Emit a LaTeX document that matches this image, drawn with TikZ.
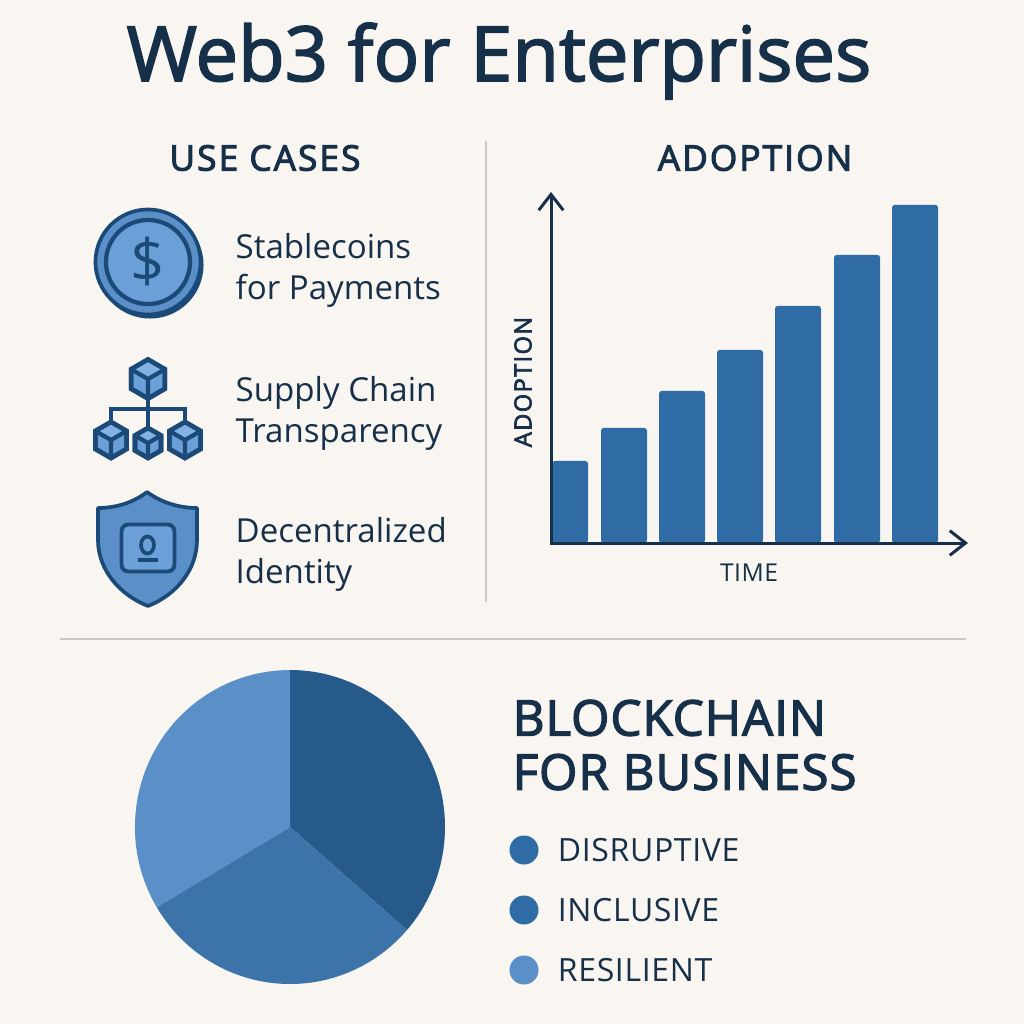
\documentclass[tikz,border=0pt]{standalone}
\usepackage{fontspec}
\usepackage{tikz}
\usetikzlibrary{positioning,shapes.geometric,arrows.meta}
\setmainfont{Open Sans}
\newfontfamily\titlefont{Open Sans}[RawFeature={embolden=2.2}]
\newfontfamily\headfont{Open Sans}[RawFeature={embolden=3},LetterSpace=6]
\newfontfamily\bigfont{Open Sans}[RawFeature={embolden=2.6},LetterSpace=2]
\newfontfamily\labelfont{Open Sans}[LetterSpace=2]
\definecolor{paper}{HTML}{F9F6F1}
\definecolor{ink}{HTML}{17304A}
\definecolor{stroke}{HTML}{1B4A78}
\definecolor{barblue}{HTML}{2F6BA5}
\definecolor{pieDark}{HTML}{265A8A}
\definecolor{pieMid}{HTML}{3C74AA}
\definecolor{pieLight}{HTML}{5B8FC7}
\definecolor{faceLight}{HTML}{6A9FD8}
\definecolor{faceTop}{HTML}{82B2E4}
\definecolor{rule}{HTML}{C9C9C5}
\newcommand{\cubeicon}[4]{%
  \node[cube node,minimum size=#4cm] (#1) at (#2,#3) {};
  \fill[faceTop] (#1.center) -- (#1.30) -- (#1.90) -- (#1.150) -- cycle;
  \draw[cube line] (#1.150) -- (#1.center) -- (#1.30) (#1.center) -- (#1.270);
  \node[cube node,minimum size=#4cm,fill=none] at (#2,#3) {};
}

\begin{document}
\begin{tikzpicture}[x=0.01cm,y=-0.01cm,
    main node/.style={inner sep=0pt,text=ink},
    body text/.style={main node,anchor=west,align=left,font=\fontsize{9.4}{11.7}\selectfont},
    head text/.style={main node,font=\headfont\fontsize{10}{12}\selectfont},
    cube node/.style={regular polygon,regular polygon sides=6,shape border rotate=30,draw=stroke,line width=1.3pt,fill=faceLight,inner sep=0pt,outer sep=0pt},
    cube line/.style={draw=stroke,line width=1.2pt},
    bar node/.style={anchor=south west,fill=barblue,inner sep=0pt,outer sep=0pt,rounded corners=0.8pt},
    dot node/.style={circle,minimum size=0.29cm,inner sep=0pt},
    icon line/.style={draw=stroke,line width=1.05pt},
    rule line/.style={draw=rule,line width=0.5pt},
    axis line/.style={draw=ink,line width=0.85pt},
    legend text/.style={main node,font=\labelfont\fontsize{9.1}{10}\selectfont}]
  \fill[paper] (0,0) rectangle (1024,1024);
  \useasboundingbox (0,0) rectangle (1024,1024);

  \node[main node,font=\titlefont\fontsize{21.6}{26}\selectfont] (title) at (499,61) {Web3 for Enterprises};
  \node[head text] (usecases) at (265,158) {USE CASES};
  \node[head text] (adoption) at (755,158) {ADOPTION};

  % dividers
  \coordinate (vtop) at (486,141);
  \coordinate (vbot) at (486,602);
  \coordinate (hleft) at (60,639);
  \coordinate (hright) at (966,639);
  \draw[rule line] (vtop) -- (vbot);
  \draw[rule line] (hleft) -- (hright);

  % coin
  \node[circle,fill=stroke,minimum size=1.07cm,inner sep=0pt] (coinback) at (150,265) {};
  \node[circle,icon line,fill=pieLight,minimum size=1.05cm,inner sep=0pt] (coin) at (148,262) {};
  \node[circle,draw=stroke,line width=1.2pt,fill=faceLight,minimum size=0.84cm,inner sep=0pt,text=stroke,font=\fontsize{17}{18}\selectfont] (coinface) at (148,262) {\$};
  \node[body text] (stable) at (235,270) {Stablecoins\\for Payments};

  % cubes
  \cubeicon{cubetop}{148}{379}{0.39}
  \cubeicon{cubeleft}{111}{440}{0.36}
  \cubeicon{cubemid}{148}{443}{0.30}
  \cubeicon{cuberight}{185}{440}{0.36}
  \coordinate (hub) at (148,409);
  \draw[cube line] (cubetop.south) -- (cubemid.north);
  \draw[cube line] (cubeleft.north) |- (hub) -| (cuberight.north);
  \node[body text] (supply) at (235,413) {Supply Chain\\Transparency};

  % shield
  \draw[icon line,fill=pieLight,line join=round] (147,492) .. controls (133,503) and (115,508) .. (98,508) -- (98,540)
    .. controls (98,570) and (120,595) .. (148,606) .. controls (176,595) and (197,570) .. (197,540) -- (197,508)
    .. controls (180,508) and (162,503) .. (147,492) -- cycle;
  \node[draw=stroke,line width=1.1pt,fill=faceLight,rounded corners=2pt,minimum width=0.53cm,minimum height=0.47cm,inner sep=0pt] (badge) at (148,548) {};
  \node[ellipse,icon line,minimum width=0.13cm,minimum height=0.17cm,inner sep=0pt] (head) at (147.5,545) {};
  \coordinate (lineleft) at (138,560);
  \coordinate (lineright) at (158,560);
  \draw[icon line] (lineleft) -- (lineright);
  \node[body text] (identity) at (235,554) {Decentralized\\Identity};

  % bar chart
  \foreach \i/\x/\w/\h in {1/552/0.36/0.82,2/601/0.46/1.15,3/659/0.46/1.52,4/717/0.46/1.93,5/775/0.46/2.37,6/834/0.46/2.88,7/892/0.46/3.38}
    \node[bar node,minimum width=\w cm,minimum height=\h cm] (bar\i) at (\x,543) {};
  \coordinate (origin) at (551,543);
  \coordinate (ytip) at (551,192);
  \coordinate (xtip) at (968,543);
  \draw[axis line,{Straight Barb[length=4.5pt,width=7pt]}-{Straight Barb[length=4.5pt,width=7pt]}] (ytip) -- (origin) -- (xtip);
  \node[main node,rotate=90,font=\headfont\fontsize{6.7}{9}\selectfont] (yname) at (523,382) {ADOPTION};
  \node[main node,font=\labelfont\fontsize{7}{9}\selectfont] (xname) at (749,573) {TIME};

  % pie
  \coordinate (piecentre) at (290,827);
  \fill[pieDark] (piecentre) -- +(0,-157) arc[start angle=-90,end angle=41,x radius=155,y radius=157] -- cycle;
  \fill[pieMid] (piecentre) -- +(117,103) arc[start angle=41,end angle=149.3,x radius=155,y radius=157] -- cycle;
  \fill[pieLight] (piecentre) -- +(-133.3,80.2) arc[start angle=149.3,end angle=270,x radius=155,y radius=157] -- cycle;

  % legend
  \node[main node,anchor=west,align=left,font=\bigfont\fontsize{14}{15.4}\selectfont] (blockchain) at (512,745) {BLOCKCHAIN\\FOR BUSINESS};
  \node[dot node,fill=barblue] (dot1) at (524,850) {};
  \node[dot node,fill=barblue] (dot2) at (524,910) {};
  \node[dot node,fill=pieLight] (dot3) at (524,970) {};
  \node[legend text] (disruptive) [right=0.18cm of dot1] {DISRUPTIVE};
  \node[legend text] (inclusive) [right=0.18cm of dot2] {INCLUSIVE};
  \node[legend text] (resilient) [right=0.18cm of dot3] {RESILIENT};
\end{tikzpicture}
\end{document}
